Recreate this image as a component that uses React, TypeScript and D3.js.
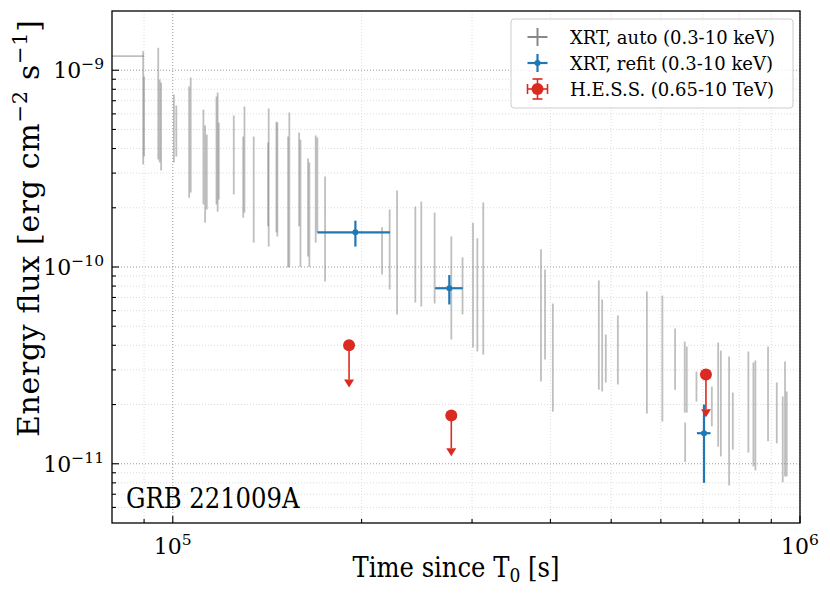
import React from 'react';
import * as d3 from 'd3';

// XRT automatic light curve (Swift), flux error-bar ends
const grayTime = [
  8.97e4, 9.0e4, 9.48e4, 9.53e4, 9.58e4, 1.004e5, 1.013e5, 1.062e5, 1.068e5, 1.119e5,
  1.126e5, 1.133e5, 1.174e5, 1.179e5, 1.184e5, 1.251e5, 1.295e5, 1.301e5, 1.346e5, 1.419e5,
  1.422e5, 1.463e5, 1.468e5, 1.527e5, 1.534e5, 1.59e5, 1.598e5, 1.643e5, 1.651e5, 1.69e5,
  1.7e5, 1.749e5, 2.156e5, 2.217e5, 2.278e5, 2.436e5, 2.49e5, 2.615e5, 2.78e5, 2.897e5,
  3.011e5, 3.059e5, 3.126e5, 3.864e5, 3.922e5, 4.036e5, 4.778e5, 4.837e5, 4.902e5, 5.124e5,
  5.7e5, 6.034e5, 6.322e5, 6.55e5, 6.56e5, 6.599e5, 6.838e5, 7.235e5, 7.405e5, 7.478e5,
  7.708e5, 7.814e5, 8.274e5, 8.427e5, 8.489e5, 8.893e5, 9.183e5, 9.386e5, 9.465e5, 9.524e5,
];
const grayHigh = [
  1.25e-9, 9.29e-10, 1.3e-9, 8.97e-10, 8.66e-10, 7.52e-10, 6.62e-10, 8.26e-10, 9.18e-10, 6.31e-10,
  5.24e-10, 4.71e-10, 7.35e-10, 7.7e-10, 5.42e-10, 5.89e-10, 4.6e-10, 6.54e-10, 4.6e-10, 4.29e-10,
  6.39e-10, 5.48e-10, 5.42e-10, 4.6e-10, 6.1e-10, 4.82e-10, 4.44e-10, 3.56e-10, 3.4e-10, 4.66e-10,
  4.55e-10, 2.88e-10, 1.59e-10, 1.96e-10, 2.45e-10, 2.03e-10, 2.15e-10, 1.89e-10, 1.43e-10, 1.12e-10,
  1.68e-10, 1.4e-10, 2.13e-10, 1.23e-10, 9.71e-11, 6.52e-11, 8.54e-11, 6.84e-11, 4.54e-11, 5.67e-11,
  7.51e-11, 7.16e-11, 4.87e-11, 4.18e-11, 1.62e-11, 3.94e-11, 2.94e-11, 2.47e-11, 4.13e-11, 3.76e-11,
  3.51e-11, 2.3e-11, 3.72e-11, 3.27e-11, 3.35e-11, 3.94e-11, 2.59e-11, 2.2e-11, 3.31e-11, 2.33e-11,
];
const grayLow = [
  3.32e-10, 3.64e-10, 3.52e-10, 3.4e-10, 3.09e-10, 3.4e-10, 3.64e-10, 2.25e-10, 2.39e-10, 2.08e-10,
  1.68e-10, 1.96e-10, 2.08e-10, 1.91e-10, 2.2e-10, 2.34e-10, 1.78e-10, 1.89e-10, 1.33e-10, 1.61e-10,
  1.27e-10, 1.5e-10, 1.43e-10, 9.94e-11, 1.0e-10, 1.61e-10, 1.0e-10, 1.13e-10, 1.0e-10, 1.33e-10,
  1.5e-10, 8.44e-11, 9.16e-11, 7.69e-11, 5.74e-11, 6.6e-11, 6.3e-11, 6.52e-11, 4.28e-11, 5.74e-11,
  3.9e-11, 3.72e-11, 3.59e-11, 2.62e-11, 3.39e-11, 1.84e-11, 2.38e-11, 2.33e-11, 2.59e-11, 2.53e-11,
  1.8e-11, 1.64e-11, 2.38e-11, 1.82e-11, 1.02e-11, 1.82e-11, 2.07e-11, 1.55e-11, 1.22e-11, 1.09e-11,
  7.76e-12, 1.18e-11, 1.14e-11, 9.69e-12, 9.25e-12, 1.3e-11, 1.27e-11, 8.04e-12, 8.62e-12, 8.62e-12,
];
// first long bin, starts before the plotted range
const firstBinStart = 6e4;
const firstBinEnd = 9e4;
const firstBinFlux = 1.18e-9;

// XRT refit in the H.E.S.S. windows
const refitTime = [1.955e5, 2.76e5, 7.03e5];
const refitTimeLow = [1.7e5, 2.62e5, 6.85e5];
const refitTimeHigh = [2.22e5, 2.9e5, 7.2e5];
const refitFlux = [1.5e-10, 7.8e-11, 1.43e-11];
const refitFluxLow = [1.27e-10, 6.45e-11, 8.0e-12];
const refitFluxHigh = [1.72e-10, 9.1e-11, 2.0e-11];

// H.E.S.S. upper limits
const hessTime = [1.91e5, 2.78e5, 7.08e5];
const hessFlux = [4.0e-11, 1.76e-11, 2.84e-11];
const hessArrowEnd = [2.68e-11, 1.2e-11, 1.89e-11];

const legendLabels = ['XRT, auto (0.3-10 keV)', 'XRT, refit (0.3-10 keV)', 'H.E.S.S. (0.65-10 TeV)'];

const W = 830;
const H = 593;
const M = { left: 112, right: 800, top: 11, bottom: 523 };
const serif = "'DejaVu Serif', serif";
const labelFont = "'DejaVu Serif Condensed', 'DejaVu Serif', serif";
const GRAY = '#808080';
const BLUE = '#1f77b4';
const RED = '#db2b20';

const isDecade = (v: number) => Math.abs(Math.log10(v) - Math.round(Math.log10(v))) < 1e-9;

const App = () => {
  const x = d3.scaleLog().domain([8e4, 1e6]).range([M.left, M.right]);
  const y = d3.scaleLog().domain([5e-12, 2e-9]).range([M.bottom, M.top]);

  const xt = x.ticks().filter(v => x(v) > M.left + 0.5 && x(v) <= M.right + 0.5);
  const yt = y.ticks().filter(v => y(v) < M.bottom - 0.5 && y(v) > M.top + 0.5);
  const xMajor = xt.filter(isDecade);
  const xMinor = xt.filter(v => !isDecade(v));
  const yMajor = yt.filter(isDecade);
  const yMinor = yt.filter(v => !isDecade(v));

  return (
    <svg width={W} height={H} style={{ position: 'absolute', left: 0, top: 0, background: '#fff' }}>
      <defs>
        <clipPath id="plot">
          <rect x={M.left} y={M.top} width={M.right - M.left} height={M.bottom - M.top} />
        </clipPath>
      </defs>

      {/* grid */}
      <g strokeWidth={1} strokeDasharray="1,2" fill="none">
        {xMinor.map(v => (
          <line key={'gx' + v} x1={x(v)} x2={x(v)} y1={M.top} y2={M.bottom} stroke="#dcdcdc" />
        ))}
        {yMinor.map(v => (
          <line key={'gy' + v} x1={M.left} x2={M.right} y1={y(v)} y2={y(v)} stroke="#dcdcdc" />
        ))}
        {xMajor.map(v => (
          <line key={'gX' + v} x1={x(v)} x2={x(v)} y1={M.top} y2={M.bottom} stroke="#9a9a9a" />
        ))}
        {yMajor.map(v => (
          <line key={'gY' + v} x1={M.left} x2={M.right} y1={y(v)} y2={y(v)} stroke="#9a9a9a" />
        ))}
      </g>

      <g clipPath="url(#plot)">
        {/* XRT auto */}
        <line x1={x(firstBinStart)} x2={x(firstBinEnd)} y1={y(firstBinFlux)} y2={y(firstBinFlux)}
          stroke={GRAY} strokeOpacity={0.5} strokeWidth={1.8} />
        {grayTime.map((t, i) => (
          <line key={'a' + i} x1={x(t)} x2={x(t)} y1={y(grayHigh[i])} y2={y(grayLow[i])}
            stroke={GRAY} strokeOpacity={0.5} strokeWidth={1.8} />
        ))}

        {/* XRT refit */}
        {refitTime.map((t, i) => (
          <g key={'r' + i} stroke={BLUE} strokeWidth={2.2}>
            <line x1={x(refitTimeLow[i])} x2={x(refitTimeHigh[i])} y1={y(refitFlux[i])} y2={y(refitFlux[i])} />
            <line x1={x(t)} x2={x(t)} y1={y(refitFluxHigh[i])} y2={y(refitFluxLow[i])} />
            <circle cx={x(t)} cy={y(refitFlux[i])} r={3} fill={BLUE} stroke="none" />
          </g>
        ))}

        {/* H.E.S.S. upper limits */}
        {hessTime.map((t, i) => {
          const cx = x(t);
          const yb = y(hessArrowEnd[i]);
          return (
            <g key={'h' + i}>
              <line x1={cx} x2={cx} y1={y(hessFlux[i])} y2={yb} stroke={RED} strokeWidth={1.6} />
              <path d={`M${cx - 5},${yb} L${cx + 5},${yb} L${cx},${yb + 8} Z`} fill={RED} />
              <circle cx={cx} cy={y(hessFlux[i])} r={6} fill={RED} />
            </g>
          );
        })}
      </g>

      {/* frame */}
      <rect x={M.left} y={M.top} width={M.right - M.left} height={M.bottom - M.top}
        fill="none" stroke="#000" strokeWidth={1.3} />

      {/* ticks (inward, left and bottom) */}
      <g stroke="#000" strokeWidth={1.1}>
        {xMajor.map(v => <line key={'tX' + v} x1={x(v)} x2={x(v)} y1={M.bottom} y2={M.bottom - 7} />)}
        {xMinor.map(v => <line key={'tx' + v} x1={x(v)} x2={x(v)} y1={M.bottom} y2={M.bottom - 4} />)}
        {yMajor.map(v => <line key={'tY' + v} x1={M.left} x2={M.left + 7} y1={y(v)} y2={y(v)} />)}
        {yMinor.map(v => <line key={'ty' + v} x1={M.left} x2={M.left + 4} y1={y(v)} y2={y(v)} />)}
      </g>

      {/* tick labels */}
      <g fontFamily={serif} fontSize={22} fill="#000">
        {xMajor.map(v => (
          <text key={'lX' + v} x={x(v)} y={M.bottom + 31} textAnchor="middle">
            10<tspan fontSize={15.5} dy={-9}>{Math.round(Math.log10(v))}</tspan>
          </text>
        ))}
        {yMajor.map(v => (
          <text key={'lY' + v} x={M.left - 8} y={y(v) + 8} textAnchor="end">
            10<tspan fontSize={15.5} dy={-9}>{'\u2212' + Math.abs(Math.round(Math.log10(v)))}</tspan>
          </text>
        ))}
      </g>

      {/* axis labels */}
      <text x={(M.left + M.right) / 2} y={577} textAnchor="middle" fontFamily={labelFont}
        style={{ fontStretch: 'condensed' }} fontSize={27}>
        Time since T<tspan fontSize={19} dy={5}>0</tspan><tspan dy={-5}> [s]</tspan>
      </text>
      <text transform="translate(39,437) rotate(-90)" textAnchor="start" fontFamily={serif}
        fontSize={30} textLength={417} lengthAdjust="spacing">
        Energy flux [erg cm<tspan fontSize={21} dy={-12}>{'\u22122'}</tspan>
        <tspan dy={12}> s</tspan><tspan fontSize={21} dy={-12}>{'\u22121'}</tspan><tspan dy={12}>]</tspan>
      </text>
      <text x={126} y={508} fontFamily={labelFont} style={{ fontStretch: 'condensed' }} fontSize={27}>
        GRB 221009A
      </text>

      {/* legend */}
      <g>
        <rect x={511} y={19} width={282} height={89} rx={3} fill="#fff" fillOpacity={0.8} stroke="#cccccc" />
        {legendLabels.map((lab, i) => {
          const cy = 37 + i * 26;
          const cx = 537.5;
          return (
            <g key={'lg' + i}>
              {i === 0 && (
                <g stroke="#888" strokeWidth={2}>
                  <line x1={cx - 10} x2={cx + 10} y1={cy} y2={cy} />
                  <line x1={cx} x2={cx} y1={cy - 9} y2={cy + 9} />
                </g>
              )}
              {i === 1 && (
                <g stroke={BLUE} strokeWidth={2.2}>
                  <line x1={cx - 10} x2={cx + 10} y1={cy} y2={cy} />
                  <line x1={cx} x2={cx} y1={cy - 9} y2={cy + 9} />
                  <circle cx={cx} cy={cy} r={3} fill={BLUE} stroke="none" />
                </g>
              )}
              {i === 2 && (
                <g stroke={RED} strokeWidth={1.6}>
                  <line x1={cx - 10} x2={cx + 10} y1={cy} y2={cy} />
                  <line x1={cx} x2={cx} y1={cy - 10} y2={cy + 10} />
                  <line x1={cx - 5} x2={cx + 5} y1={cy - 10} y2={cy - 10} />
                  <line x1={cx - 5} x2={cx + 5} y1={cy + 10} y2={cy + 10} />
                  <line x1={cx - 10} x2={cx - 10} y1={cy - 5} y2={cy + 5} />
                  <line x1={cx + 10} x2={cx + 10} y1={cy - 5} y2={cy + 5} />
                  <circle cx={cx} cy={cy} r={6} fill={RED} stroke="none" />
                </g>
              )}
              <text x={570} y={cy + 6.5} fontFamily={serif} fontSize={18}>{lab}</text>
            </g>
          );
        })}
      </g>
    </svg>
  );
};

export default App;
